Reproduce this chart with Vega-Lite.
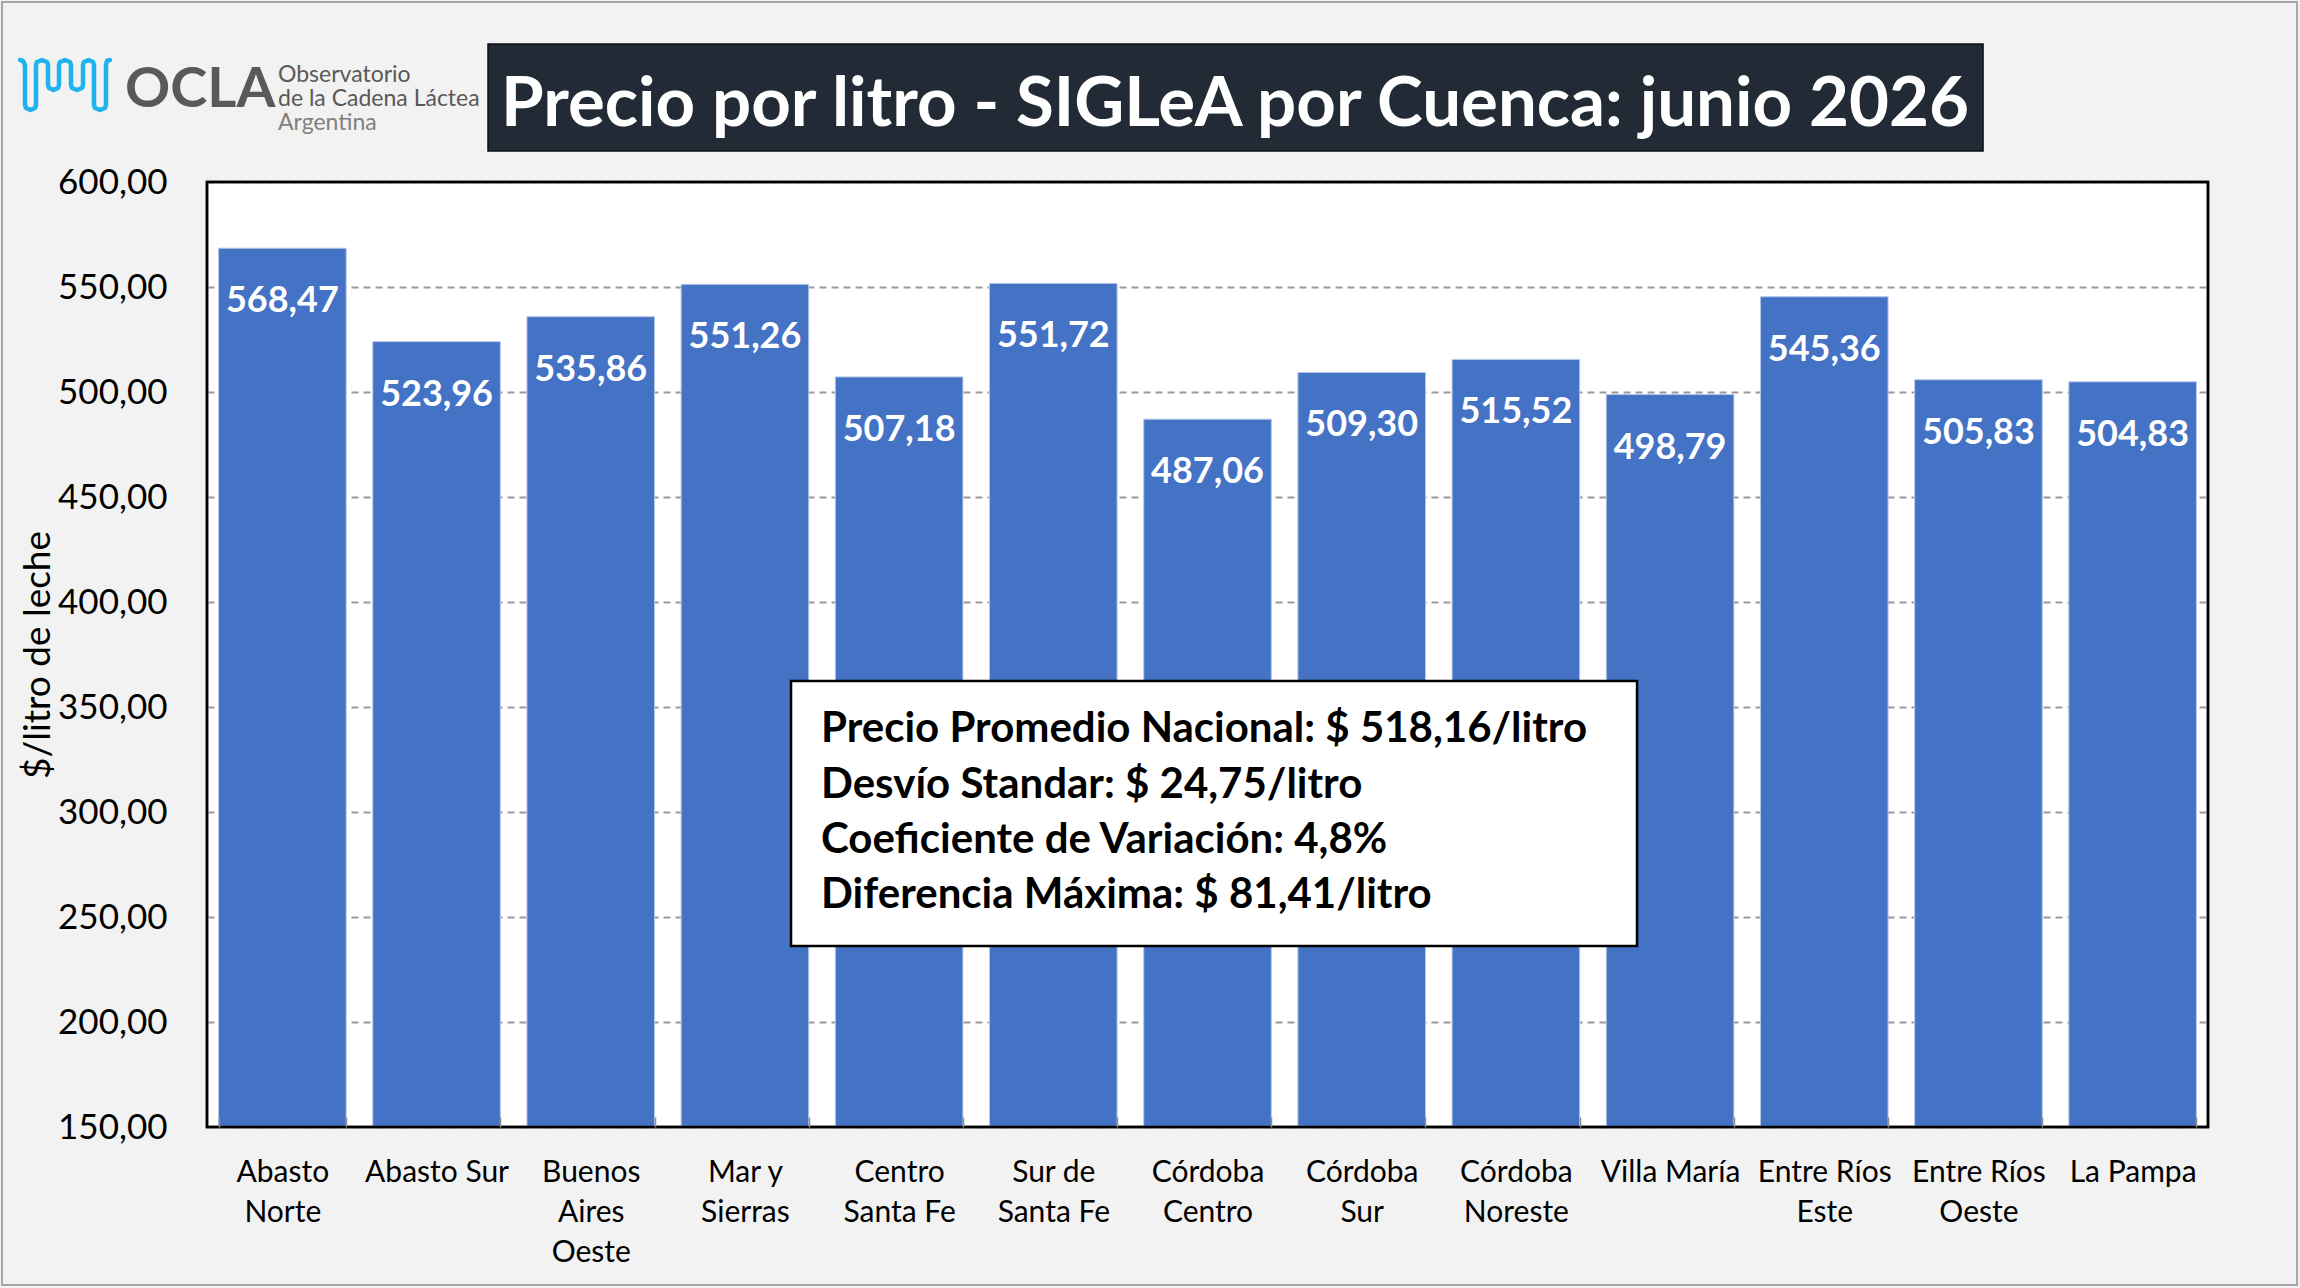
{
  "$schema": "https://vega.github.io/schema/vega-lite/v6.json",
  "autosize": {"type": "none"},
  "padding": {"left": 207, "top": 182, "right": 92, "bottom": 161},
  "width": 2001,
  "height": 945,
  "background": "#f2f2f2",
  "config": {
    "view": {"fill": "white", "stroke": "black", "strokeWidth": 2.5},
    "locale": {"number": {"decimal": ",", "thousands": ".", "grouping": [3], "currency": ["$", ""]}}
  },
  "resolve": {"scale": {"x": "independent", "y": "independent"}},
  "layer": [
    {
      "data": {
        "values": [
          {"cuenca": "Abasto\nNorte", "precio": 568.47},
          {"cuenca": "Abasto Sur", "precio": 523.96},
          {"cuenca": "Buenos\nAires\nOeste", "precio": 535.86},
          {"cuenca": "Mar y\nSierras", "precio": 551.26},
          {"cuenca": "Centro\nSanta Fe", "precio": 507.18},
          {"cuenca": "Sur de\nSanta Fe", "precio": 551.72},
          {"cuenca": "Córdoba\nCentro", "precio": 487.06},
          {"cuenca": "Córdoba\nSur", "precio": 509.30},
          {"cuenca": "Córdoba\nNoreste", "precio": 515.52},
          {"cuenca": "Villa María", "precio": 498.79},
          {"cuenca": "Entre Ríos\nEste", "precio": 545.36},
          {"cuenca": "Entre Ríos\nOeste", "precio": 505.83},
          {"cuenca": "La Pampa", "precio": 504.83}
        ]
      },
      "encoding": {
        "x": {
          "field": "cuenca",
          "type": "nominal",
          "sort": null,
          "scale": {"paddingInner": 0.1725, "paddingOuter": 0.075},
          "axis": {
            "title": null,
            "labelAngle": 0,
            "labelFont": "Lato",
            "labelFontSize": 30,
            "labelColor": "black",
            "labelLineHeight": 40,
            "labelExpr": "datum.value ? split(datum.value, '\\n') : ''",
            "labelPadding": 40,
            "tickBand": "extent",
            "tickSize": -10,
            "tickColor": "#8c8c8c",
            "tickWidth": 1.5,
            "domain": false,
            "zindex": 1
          }
        },
        "y": {
          "field": "precio",
          "type": "quantitative",
          "scale": {"domain": [150, 600], "nice": false, "zero": false},
          "axis": {
            "title": "$/litro de leche",
            "titleFont": "Lato",
            "titleFontSize": 37,
            "titleFontWeight": "normal",
            "titleColor": "black",
            "titlePadding": 0,
            "format": ".2f",
            "values": [150, 200, 250, 300, 350, 400, 450, 500, 550, 600],
            "labelFont": "Lato",
            "labelFontSize": 35,
            "labelColor": "black",
            "labelPadding": 40,
            "ticks": false,
            "tickSize": 0,
            "domain": false,
            "gridColor": "#999999",
            "gridDash": [7, 5],
            "gridWidth": 2
          }
        }
      },
      "layer": [
        {
          "mark": {"type": "bar", "color": "#4472c4", "stroke": "#b4c7e7", "strokeWidth": 1},
          "encoding": {"y2": {"datum": 150}}
        },
        {
          "mark": {"type": "text", "color": "white", "font": "Lato", "fontWeight": "bold", "fontSize": 36, "baseline": "middle", "dy": 53},
          "encoding": {"text": {"field": "precio", "type": "quantitative", "format": ".2f"}}
        }
      ]
    },
    {
      "data": {"values": [{"x": 0, "x2": 13, "y": 600, "y2": 150}]},
      "mark": {"type": "rect", "fillOpacity": 0, "stroke": "black", "strokeWidth": 2.5},
      "encoding": {
        "x": {"field": "x", "type": "quantitative", "scale": {"domain": [0, 13], "nice": false, "zero": false}, "axis": null},
        "x2": {"field": "x2"},
        "y": {"field": "y", "type": "quantitative", "scale": {"domain": [150, 600], "nice": false, "zero": false}, "axis": null},
        "y2": {"field": "y2"}
      }
    },
    {
      "data": {"values": [{"x": -1.3319, "x2": 13.5785, "y": 685.71, "y2": 74.76}]},
      "mark": {"type": "rect", "fillOpacity": 0, "stroke": "#a6a6a6", "strokeWidth": 2},
      "encoding": {
        "x": {"field": "x", "type": "quantitative", "scale": {"domain": [0, 13], "nice": false, "zero": false}, "axis": null},
        "x2": {"field": "x2"},
        "y": {"field": "y", "type": "quantitative", "scale": {"domain": [150, 600], "nice": false, "zero": false}, "axis": null},
        "y2": {"field": "y2"}
      }
    },
    {
      "data": {"values": [{"x": 1.8256, "x2": 11.5385, "y": 665.71, "y2": 614.76}]},
      "mark": {"type": "rect", "fill": "#222a35", "stroke": "#0d1117", "strokeWidth": 1.5},
      "encoding": {
        "x": {"field": "x", "type": "quantitative", "scale": {"domain": [0, 13], "nice": false, "zero": false}, "axis": null},
        "x2": {"field": "x2"},
        "y": {"field": "y", "type": "quantitative", "scale": {"domain": [150, 600], "nice": false, "zero": false}, "axis": null},
        "y2": {"field": "y2"}
      }
    },
    {
      "data": {"values": [{"x": 6.679, "y": 626.67, "texto": "Precio por litro - SIGLeA por Cuenca: junio 2026"}]},
      "mark": {"type": "text", "color": "white", "font": "Lato", "fontWeight": "bold", "fontSize": 69, "align": "center", "baseline": "alphabetic"},
      "encoding": {
        "x": {"field": "x", "type": "quantitative", "scale": {"domain": [0, 13], "nice": false, "zero": false}, "axis": null},
        "y": {"field": "y", "type": "quantitative", "scale": {"domain": [150, 600], "nice": false, "zero": false}, "axis": null},
        "text": {"field": "texto"}
      }
    },
    {
      "data": {"values": [{"x": 3.7943, "x2": 9.2906, "y": 362.38, "y2": 236.19}]},
      "mark": {"type": "rect", "fill": "white", "stroke": "black", "strokeWidth": 2.5},
      "encoding": {
        "x": {"field": "x", "type": "quantitative", "scale": {"domain": [0, 13], "nice": false, "zero": false}, "axis": null},
        "x2": {"field": "x2"},
        "y": {"field": "y", "type": "quantitative", "scale": {"domain": [150, 600], "nice": false, "zero": false}, "axis": null},
        "y2": {"field": "y2"}
      }
    },
    {
      "data": {
        "values": [
          {"x": 3.9891, "y": 333.33, "texto": "Precio Promedio Nacional: $ 518,16/litro"},
          {"x": 3.9891, "y": 306.67, "texto": "Desvío Standar:  $ 24,75/litro"},
          {"x": 3.9891, "y": 280.48, "texto": "Coeficiente de Variación: 4,8%"},
          {"x": 3.9891, "y": 254.29, "texto": "Diferencia Máxima: $ 81,41/litro"}
        ]
      },
      "mark": {"type": "text", "color": "black", "font": "Lato", "fontWeight": "bold", "fontSize": 42, "align": "left", "baseline": "alphabetic"},
      "encoding": {
        "x": {"field": "x", "type": "quantitative", "scale": {"domain": [0, 13], "nice": false, "zero": false}, "axis": null},
        "y": {"field": "y", "type": "quantitative", "scale": {"domain": [150, 600], "nice": false, "zero": false}, "axis": null},
        "text": {"field": "texto"}
      }
    },
    {
      "data": {
        "values": [
          {"i": 1, "x": -1.2149, "y": 658.10},
          {"i": 2, "x": -1.1954, "y": 657.62},
          {"i": 3, "x": -1.1824, "y": 655.71},
          {"i": 4, "x": -1.1824, "y": 636.67},
          {"i": 5, "x": -1.1759, "y": 635.24},
          {"i": 6, "x": -1.1467, "y": 634.29},
          {"i": 7, "x": -1.1174, "y": 635.24},
          {"i": 8, "x": -1.1110, "y": 636.67},
          {"i": 9, "x": -1.1110, "y": 655.71},
          {"i": 10, "x": -1.1045, "y": 657.14},
          {"i": 11, "x": -1.0720, "y": 658.10},
          {"i": 12, "x": -1.0395, "y": 657.14},
          {"i": 13, "x": -1.0330, "y": 655.71},
          {"i": 14, "x": -1.0330, "y": 646.19},
          {"i": 15, "x": -1.0265, "y": 644.76},
          {"i": 16, "x": -0.9973, "y": 643.81},
          {"i": 17, "x": -0.9680, "y": 644.76},
          {"i": 18, "x": -0.9615, "y": 646.19},
          {"i": 19, "x": -0.9615, "y": 655.71},
          {"i": 20, "x": -0.9550, "y": 657.14},
          {"i": 21, "x": -0.9225, "y": 658.10},
          {"i": 22, "x": -0.8901, "y": 657.14},
          {"i": 23, "x": -0.8836, "y": 655.71},
          {"i": 24, "x": -0.8836, "y": 646.19},
          {"i": 25, "x": -0.8771, "y": 644.76},
          {"i": 26, "x": -0.8446, "y": 643.81},
          {"i": 27, "x": -0.8121, "y": 644.76},
          {"i": 28, "x": -0.8056, "y": 646.19},
          {"i": 29, "x": -0.8056, "y": 655.71},
          {"i": 30, "x": -0.7991, "y": 657.14},
          {"i": 31, "x": -0.7699, "y": 658.10},
          {"i": 32, "x": -0.7406, "y": 657.14},
          {"i": 33, "x": -0.7342, "y": 655.71},
          {"i": 34, "x": -0.7342, "y": 636.67},
          {"i": 35, "x": -0.7277, "y": 635.24},
          {"i": 36, "x": -0.6952, "y": 634.29},
          {"i": 37, "x": -0.6627, "y": 635.24},
          {"i": 38, "x": -0.6562, "y": 636.67},
          {"i": 39, "x": -0.6562, "y": 655.71},
          {"i": 40, "x": -0.6497, "y": 657.62},
          {"i": 41, "x": -0.6302, "y": 658.10}
        ]
      },
      "mark": {"type": "line", "color": "#1fb3ee", "strokeWidth": 4.5, "strokeCap": "round", "strokeJoin": "round"},
      "encoding": {
        "x": {"field": "x", "type": "quantitative", "scale": {"domain": [0, 13], "nice": false, "zero": false}, "axis": null},
        "y": {"field": "y", "type": "quantitative", "scale": {"domain": [150, 600], "nice": false, "zero": false}, "axis": null},
        "order": {"field": "i", "type": "quantitative"}
      }
    },
    {
      "data": {"values": [{"x": -0.5327, "y": 635.7, "texto": "OCLA"}]},
      "mark": {"type": "text", "color": "#58595b", "font": "Lato", "fontWeight": "bold", "fontSize": 56, "align": "left", "baseline": "alphabetic"},
      "encoding": {
        "x": {"field": "x", "type": "quantitative", "scale": {"domain": [0, 13], "nice": false, "zero": false}, "axis": null},
        "y": {"field": "y", "type": "quantitative", "scale": {"domain": [150, 600], "nice": false, "zero": false}, "axis": null},
        "text": {"field": "texto"}
      }
    },
    {
      "data": {
        "values": [
          {"x": 0.4613, "y": 647.6, "texto": "Observatorio"},
          {"x": 0.4613, "y": 636.2, "texto": "de la Cadena Láctea"}
        ]
      },
      "mark": {"type": "text", "color": "#595959", "font": "Lato", "fontSize": 23, "align": "left", "baseline": "alphabetic"},
      "encoding": {
        "x": {"field": "x", "type": "quantitative", "scale": {"domain": [0, 13], "nice": false, "zero": false}, "axis": null},
        "y": {"field": "y", "type": "quantitative", "scale": {"domain": [150, 600], "nice": false, "zero": false}, "axis": null},
        "text": {"field": "texto"}
      }
    },
    {
      "data": {"values": [{"x": 0.4613, "y": 624.8, "texto": "Argentina"}]},
      "mark": {"type": "text", "color": "#808080", "font": "Lato", "fontSize": 23, "align": "left", "baseline": "alphabetic"},
      "encoding": {
        "x": {"field": "x", "type": "quantitative", "scale": {"domain": [0, 13], "nice": false, "zero": false}, "axis": null},
        "y": {"field": "y", "type": "quantitative", "scale": {"domain": [150, 600], "nice": false, "zero": false}, "axis": null},
        "text": {"field": "texto"}
      }
    }
  ]
}
